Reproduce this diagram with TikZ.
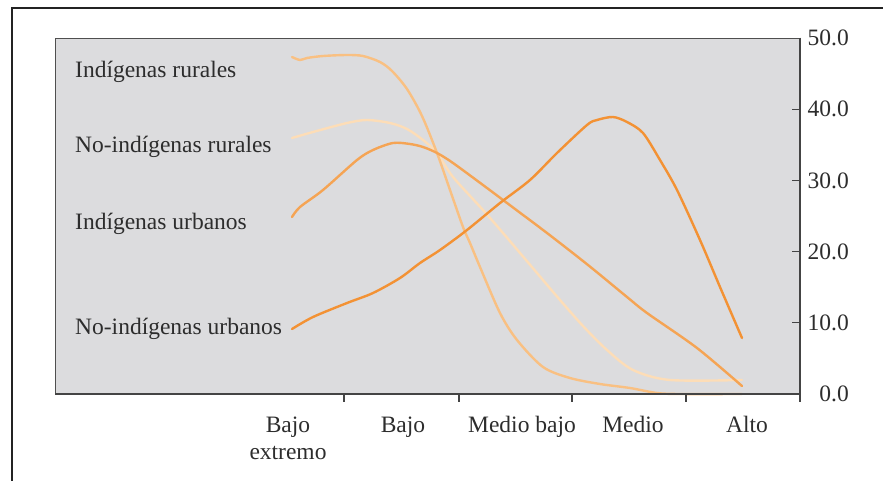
\documentclass[tikz,border=0pt]{standalone}
\usepackage{fontspec}
\setmainfont{Liberation Serif}
\definecolor{bg}{RGB}{220,220,222}
\definecolor{txt}{RGB}{45,45,45}
\definecolor{frm}{RGB}{35,35,35}
\definecolor{cA}{RGB}{249,192,130}
\definecolor{cB}{RGB}{253,221,183}
\definecolor{cC}{RGB}{245,164,84}
\definecolor{cD}{RGB}{243,146,52}
\begin{document}
\begin{tikzpicture}[x=1pt,y=-1pt,
  lbl/.style={font=\fontsize{23.5}{27}\selectfont, text=txt, inner sep=0pt},
  curve/.style={line width=2.4pt, line join=round, line cap=round},
  axisline/.style={draw=frm!85, line width=1.4pt},
  tickmark/.style={draw=frm!85, line width=1.2pt}]
\useasboundingbox (0,0) rectangle (883,480);
\fill[white] (0,0) rectangle (883,480);
% outer frame
\draw[frm, line width=2.8pt] (12,481) -- (12,8) -- (884,8);
% plot area
\fill[bg] (55,38) rectangle (800,394);
\draw[frm!80, line width=1pt] (800,38) -- (55,38) -- (55,394);
% curves
\draw[curve, cB] plot[smooth, tension=0.5] coordinates {(292,138) (313,132) (347,123) (367,120) (390,123) (407,129) (423,140) (437,153) (453,177) (483,210) (503,233) (537,273) (560,300) (583,326) (607,350) (633,370) (670,380) (742,380)};
\draw[curve, cA] plot[smooth, tension=0.5] coordinates {(292,57) (300,60) (307,58) (323,56) (347,55) (363,56) (380,62) (392,71) (407,89) (422,116) (437,153) (450,190) (463,227) (470,243) (480,267) (500,313) (517,340) (543,367) (570,378) (600,384) (630,388) (657,393) (680,394) (742,394)};
\draw[curve, cC] plot[smooth, tension=0.5] coordinates {(292,217) (300,207) (323,190) (357,160) (373,150) (393,143) (410,144) (423,147) (437,153) (453,163) (487,188) (507,203) (547,233) (588,265) (627,297) (647,313) (697,348) (742,386)};
\draw[curve, cD] plot[smooth, tension=0.5] coordinates {(292,329) (313,317) (347,303) (373,293) (400,278) (420,263) (440,250) (467,230) (500,203) (530,180) (557,153) (587,125) (597,120) (613,117) (627,122) (643,133) (660,160) (677,190) (700,240) (720,287) (742,338)};
% axes
\draw[axisline] (55,394) -- (800,394);
\draw[axisline] (800,37.5) -- (800,402);
\foreach \xx in {344,459,572,686} \draw[tickmark] (\xx,394) -- (\xx,402);
\foreach \yy in {322.8,251.6,180.4,109.2} \draw[tickmark] (800,\yy) -- (792,\yy);
% y labels
\node[lbl, anchor=east] (y50) at (849,38) {50.0};
\node[lbl, anchor=east] (y40) at (849,109.2) {40.0};
\node[lbl, anchor=east] (y30) at (849,180.4) {30.0};
\node[lbl, anchor=east] (y20) at (849,251.6) {20.0};
\node[lbl, anchor=east] (y10) at (849,322.8) {10.0};
\node[lbl, anchor=east] (y00) at (849,394) {0.0};
% x labels
\node[lbl, anchor=base] (xbe1) at (288,432) {Bajo};
\node[lbl, anchor=base] (xbe2) at (288,459) {extremo};
\node[lbl, anchor=base] (xb) at (403,432) {Bajo};
\node[lbl, anchor=base] (xmb) at (522,432) {Medio bajo};
\node[lbl, anchor=base] (xm) at (633,432) {Medio};
\node[lbl, anchor=base] (xa) at (747,432) {Alto};
% series labels
\node[lbl, anchor=base west] (lIR) at (75,77) {Indígenas rurales};
\node[lbl, anchor=base west] (lNIR) at (75,152) {No-indígenas rurales};
\node[lbl, anchor=base west] (lIU) at (75,229) {Indígenas urbanos};
\node[lbl, anchor=base west] (lNIU) at (75,334) {No-indígenas urbanos};
\end{tikzpicture}
\end{document}
